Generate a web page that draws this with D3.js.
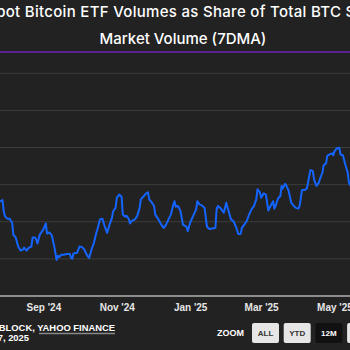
<!DOCTYPE html>
<html>
<head>
<meta charset="utf-8">
<script src="https://cdn.jsdelivr.net/npm/d3@7"></script>
<style>
  html, body { margin: 0; padding: 0; background: #222222; overflow: hidden; }
  svg { display: block; font-family: "Liberation Sans", Arial, sans-serif; }
  .title { fill: #ffffff; font-family: Inter, "Noto Sans", sans-serif; font-size: 15px; font-weight: 500; text-anchor: middle; }
  .grid line { stroke: #3d3d3d; stroke-width: 1; }
  .grid .domain { display: none; }
  .x-axis .domain { stroke: #8c8c8c; stroke-width: 2; }
  .x-axis line { display: none; }
  .x-axis text { fill: #e6e6e6; font-size: 10px; font-weight: bold; }
  .share-line { fill: none; stroke: #1464ff; stroke-width: 2; stroke-linejoin: round; }
  .credit { fill: #ffffff; font-size: 9.4px; font-weight: bold; text-anchor: end; }
  .zoom-label { fill: #ffffff; font-size: 9px; font-weight: bold; }
  .btn rect { fill: #e6e6e6; }
  .btn text { fill: #333333; font-size: 8px; font-weight: bold; text-anchor: middle; }
  .btn.active rect { fill: #111111; }
  .btn.active text { fill: #ffffff; }
</style>
</head>
<body>
<div id="chart"></div>
<script>
// 7-day average share of spot BTC volume traded through spot ETFs (%)
const dates = [
  '2024-07-25','2024-07-27','2024-07-29','2024-07-30','2024-07-31','2024-08-02','2024-08-04','2024-08-06',
  '2024-08-07','2024-08-09','2024-08-11','2024-08-13','2024-08-15','2024-08-16','2024-08-18','2024-08-20',
  '2024-08-22','2024-08-23','2024-08-25','2024-08-26','2024-08-27','2024-08-29','2024-09-01','2024-09-03',
  '2024-09-04','2024-09-06','2024-09-08','2024-09-10','2024-09-12','2024-09-13','2024-09-14','2024-09-16',
  '2024-09-18','2024-09-20','2024-09-23','2024-09-24','2024-09-25','2024-09-26','2024-09-29','2024-10-01',
  '2024-10-03','2024-10-05','2024-10-07','2024-10-09','2024-10-11','2024-10-13','2024-10-15','2024-10-16',
  '2024-10-18','2024-10-20','2024-10-22','2024-10-24','2024-10-26','2024-10-28','2024-10-29','2024-10-31',
  '2024-11-01','2024-11-03','2024-11-05','2024-11-06','2024-11-08','2024-11-09','2024-11-11','2024-11-12',
  '2024-11-13','2024-11-16','2024-11-18','2024-11-20','2024-11-21','2024-11-23','2024-11-25','2024-11-27',
  '2024-11-28','2024-11-30','2024-12-02','2024-12-03','2024-12-06','2024-12-08','2024-12-10','2024-12-12',
  '2024-12-14','2024-12-16','2024-12-18','2024-12-19','2024-12-20','2024-12-22','2024-12-24','2024-12-26',
  '2024-12-29','2024-12-30','2025-01-01','2025-01-04','2025-01-06','2025-01-07','2025-01-09','2025-01-11',
  '2025-01-13','2025-01-15','2025-01-17','2025-01-22','2025-01-23','2025-01-24','2025-01-26','2025-01-27',
  '2025-01-29','2025-01-30','2025-01-31','2025-02-02','2025-02-04','2025-02-06','2025-02-08','2025-02-10',
  '2025-02-12','2025-02-13','2025-02-15','2025-02-17','2025-02-19','2025-02-21','2025-02-23','2025-02-25',
  '2025-02-26','2025-02-28','2025-03-01','2025-03-02','2025-03-03','2025-03-05','2025-03-07','2025-03-08',
  '2025-03-10','2025-03-11','2025-03-12','2025-03-13','2025-03-15','2025-03-17','2025-03-18','2025-03-19',
  '2025-03-21','2025-03-22','2025-03-24','2025-03-26','2025-03-28','2025-03-30','2025-04-01','2025-04-02',
  '2025-04-04','2025-04-06','2025-04-08','2025-04-09','2025-04-11','2025-04-13','2025-04-14','2025-04-16',
  '2025-04-18','2025-04-19','2025-04-21','2025-04-22','2025-04-24','2025-04-25','2025-04-27','2025-04-29',
  '2025-04-30','2025-05-01','2025-05-03','2025-05-05','2025-05-06','2025-05-08','2025-05-10','2025-05-12',
  '2025-05-13','2025-05-16'
];
const shares = [
  25.1, 25.4, 25.7, 22.7, 21.4, 20.7, 20.7, 19.6,
  16.4, 15.6, 13.2, 12.1, 12.4, 12.9, 12.1, 12.9,
  13.2, 15.6, 15.6, 15.1, 14.0, 16.4, 17.8, 19.4,
  16.7, 17.0, 16.2, 13.2, 9.6, 10.7, 10.4, 11.0,
  11.0, 11.2, 11.2, 10.1, 9.9, 11.3, 11.5, 13.2,
  13.1, 12.4, 11.0, 10.1, 12.4, 14.2, 16.9, 17.9,
  20.5, 20.7, 18.6, 16.9, 19.1, 20.9, 22.7, 23.6,
  26.3, 27.2, 26.6, 21.8, 21.2, 21.5, 20.6, 19.4,
  20.0, 20.5, 21.4, 23.6, 25.9, 26.6, 27.4, 27.8,
  25.9, 25.1, 24.1, 21.8, 20.3, 19.1, 18.2, 19.1,
  20.5, 21.8, 24.5, 25.4, 23.9, 24.1, 22.7, 19.1,
  18.5, 17.3, 19.6, 21.8, 23.2, 25.4, 24.5, 24.2,
  23.6, 18.5, 17.9, 18.2, 23.2, 24.1, 23.6, 23.2,
  22.3, 23.6, 25.0, 22.7, 20.5, 20.0, 18.6, 16.6,
  16.6, 18.2, 19.1, 20.0, 21.8, 23.2, 24.1, 25.9,
  28.6, 27.8, 26.3, 26.9, 27.5, 27.2, 22.9, 23.6,
  24.8, 25.4, 23.4, 24.1, 26.1, 26.8, 29.5, 28.8,
  30.1, 29.6, 28.1, 25.0, 24.2, 23.6, 23.4, 24.1,
  28.4, 28.4, 28.8, 30.4, 33.8, 33.5, 31.3, 29.5,
  30.4, 31.5, 33.1, 35.1, 35.6, 37.6, 38.0, 38.3,
  37.8, 38.9, 39.6, 39.8, 38.0, 37.8, 35.3, 33.1,
  30.4, 28.6
];
const xDomain = ['2024-06-17', '2025-06-17'];
const xTicks = ['2024-07-01','2024-09-01','2024-11-01','2025-01-01','2025-03-01','2025-05-01'];
const yTicks = [10, 20, 30, 40, 50, 60];
const titleLines = ['Spot Bitcoin ETF Volumes as Share of Total BTC Spot', 'Market Volume (7DMA)'];
const zoomButtons = ['ALL', 'YTD', '12M', '6M'];
const activeButton = '12M';

const width = 350, height = 350;
const parse = d3.utcParse('%Y-%m-%d');
const data = dates.map((d, i) => ({ date: parse(d), value: shares[i] }));

const svg = d3.select('#chart').append('svg').attr('width', width).attr('height', height);

// title + purple rule (the chart is wider than the window, so it gets cut at the sides)
const title = svg.append('text').attr('class', 'title');
titleLines.forEach((t, i) => title.append('tspan').attr('x', 183).attr('y', 17 + i * 26.5)
  .attr('letter-spacing', i === 0 ? 0.3 : 0).text(t));
svg.append('line').attr('x1', 0).attr('x2', width).attr('y1', 52).attr('y2', 52)
  .attr('stroke', '#5a2490').attr('stroke-width', 2);

// scales
const scaleX = d3.scaleUtc().domain(xDomain.map(parse)).range([-48, 391]);
const scaleY = d3.scaleLinear().domain([0, 60]).range([295.5, 72.8]);

// gridlines (y labels fall outside the window, so only the lines are drawn)
svg.append('g').attr('class', 'grid').attr('transform', `translate(${-48},0)`)
  .call(d3.axisLeft(scaleY).tickValues(yTicks).tickSize(-439).tickFormat(''));

// x axis
svg.append('g').attr('class', 'x-axis').attr('transform', `translate(0,${295.5})`)
  .call(d3.axisBottom(scaleX).tickValues(xTicks.map(parse)).tickSize(0).tickPadding(8)
    .tickFormat(d3.utcFormat("%b '%y")));

// the series
const line = d3.line().x(d => scaleX(d.date)).y(d => scaleY(d.value));
svg.append('path').datum(data).attr('class', 'share-line').attr('d', line);

// credits
svg.append('text').attr('class', 'credit').attr('x', 115).attr('y', 331).text('SOURCE: THE BLOCK, YAHOO FINANCE');
svg.append('line').attr('x1', 39).attr('x2', 115).attr('y1', 333.5).attr('y2', 333.5)
  .attr('stroke', '#888888').attr('stroke-width', 1.5);
svg.append('text').attr('class', 'credit').attr('x', 29).attr('y', 341).text('UPDATED JUNE 17, 2025');

// zoom buttons
svg.append('text').attr('class', 'zoom-label').attr('x', 217).attr('y', 336).text('ZOOM');
const btn = svg.selectAll('.btn').data(zoomButtons).join('g')
  .attr('class', d => d === activeButton ? 'btn active' : 'btn')
  .attr('transform', (d, i) => `translate(${252 + i * 31.7},${323})`);
btn.append('rect').attr('width', 27).attr('height', 20).attr('rx', 2);
btn.append('text').attr('x', 13.5).attr('y', 13).text(d => d);
</script>
</body>
</html>
